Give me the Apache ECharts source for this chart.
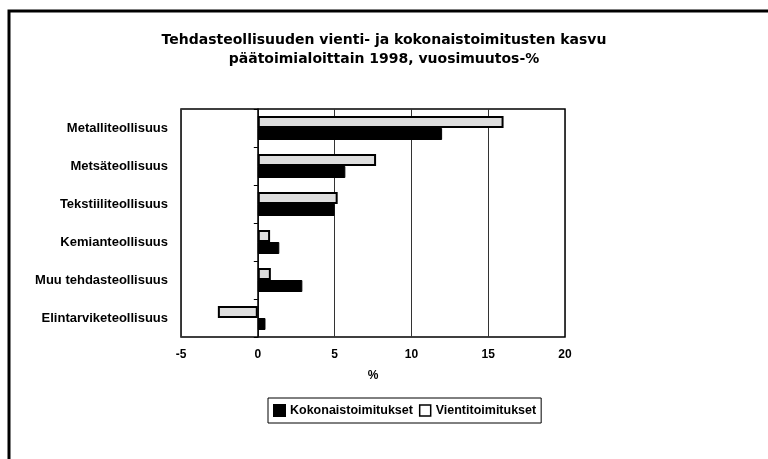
<!DOCTYPE html>
<html><head><meta charset="utf-8">
<script src="https://cdn.jsdelivr.net/npm/echarts@6/dist/echarts.min.js"></script>
<style>html,body{margin:0;padding:0;background:#fff}#c{width:768px;height:459px}</style>
</head><body><div id="c"></div>
<script>
const categories = ['Metalliteollisuus','Metsäteollisuus','Tekstiiliteollisuus','Kemianteollisuus','Muu tehdasteollisuus','Elintarviketeollisuus'];
const kokonais = [12.0, 5.7, 5.0, 1.4, 2.9, 0.5];
const vienti = [16.0, 7.7, 5.2, 0.8, 0.85, -2.6];
const xTicks = [-5, 0, 5, 10, 15, 20];
const titleLines = ['Tehdasteollisuuden vienti- ja kokonaistoimitusten kasvu', 'päätoimialoittain 1998, vuosimuutos-%'];

const chart = echarts.init(document.getElementById('c'), null, {renderer:'canvas'});
const F = 'Liberation Sans, Arial, sans-serif';
chart.setOption({
  animation:false,
  backgroundColor:'#fff',
  graphic:[{type:'rect', shape:{x:9,y:11,width:800,height:500}, style:{fill:'none',stroke:'#000',lineWidth:3}}],
  title:{text:titleLines.join('\n'), left:379, textAlign:'center', top:26,
    textStyle:{fontFamily:'DejaVu Sans, sans-serif',fontSize:14,fontWeight:'bold',color:'#000',lineHeight:19}},
  legend:{data:[{name:'Kokonaistoimitukset'},{name:'Vientitoimitukset',itemStyle:{color:'#fff',borderColor:'#000',borderWidth:1.5}}],
    left:268, top:398, icon:'rect',
    borderColor:'#000', borderWidth:1, padding:[6,5], itemWidth:11, itemHeight:11, itemGap:6,
    textStyle:{fontFamily:F,fontSize:12.5,fontWeight:'bold',color:'#000'}},
  grid:{left:181, right:203, top:109, bottom:122, show:true, borderColor:'#000', borderWidth:1.5},
  xAxis:{type:'value', min:xTicks[0], max:xTicks[xTicks.length-1], interval:5,
    name:'%', nameLocation:'middle', nameGap:33,
    nameTextStyle:{fontFamily:F,fontSize:12,fontWeight:'bold',color:'#000'},
    axisLine:{show:false}, axisTick:{show:false},
    axisLabel:{fontFamily:F,fontSize:12,fontWeight:'bold',color:'#000',margin:12},
    splitLine:{show:true,lineStyle:{color:'#333',width:1}}},
  yAxis:[{type:'category', data:categories, inverse:true,
    axisLine:{show:false,onZero:false}, axisTick:{show:false},
    axisLabel:{fontFamily:F,fontSize:13,fontWeight:'bold',color:'#000',margin:13}},
   {type:'category', data:categories, inverse:true, position:'left',
    axisLine:{show:true,onZero:true,lineStyle:{color:'#000',width:1.5}},
    axisTick:{show:true,length:4,lineStyle:{color:'#000'}}, axisLabel:{show:false}}],
  series:[
    {name:'Vientitoimitukset', type:'bar', data:vienti, barWidth:12, barGap:'0%',
      itemStyle:{color:'#dedede',borderColor:'#000',borderWidth:2}},
    {name:'Kokonaistoimitukset', type:'bar', data:kokonais, barWidth:12, barGap:'0%',
      itemStyle:{color:'#000',borderColor:'#000',borderWidth:1}}
  ]
});
</script></body></html>
